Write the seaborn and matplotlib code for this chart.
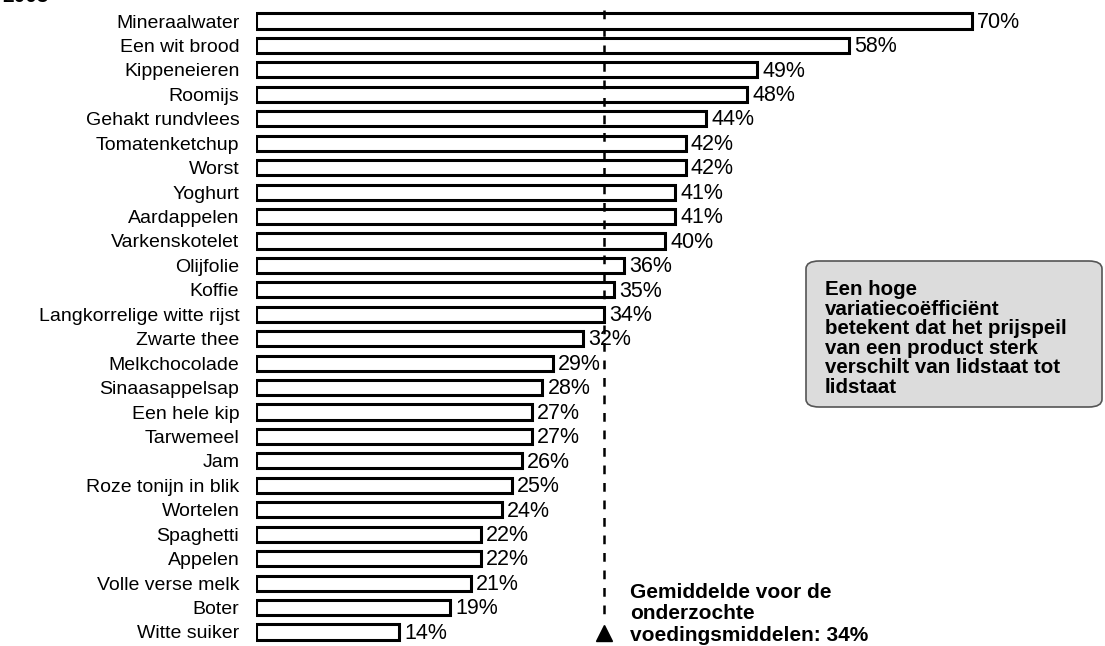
import numpy as np
import matplotlib as mpl
_ = mpl.use('Agg')
import matplotlib.pyplot as plt
import seaborn as sns
import pandas as pd
from matplotlib.patches import FancyBboxPatch

products = ['Mineraalwater', 'Een wit brood', 'Kippeneieren', 'Roomijs', 'Gehakt rundvlees',
            'Tomatenketchup', 'Worst', 'Yoghurt', 'Aardappelen', 'Varkenskotelet', 'Olijfolie',
            'Koffie', 'Langkorrelige witte rijst', 'Zwarte thee', 'Melkchocolade', 'Sinaasappelsap',
            'Een hele kip', 'Tarwemeel', 'Jam', 'Roze tonijn in blik', 'Wortelen', 'Spaghetti',
            'Appelen', 'Volle verse melk', 'Boter', 'Witte suiker']
variation = [70, 58, 49, 48, 44, 42, 42, 41, 41, 40, 36, 35, 34, 32, 29, 28, 27, 27, 26, 25,
             24, 22, 22, 21, 19, 14]
mean_value = 34

sns.set_theme(style='white')
plt.rcParams['font.family'] = ['Liberation Sans', 'DejaVu Sans']
plt.rcParams['text.color'] = 'black'
plt.rcParams['ytick.color'] = 'black'

df = pd.DataFrame({'product': products, 'value': variation})

fig = plt.figure(figsize=(11.05, 6.46), dpi=100)
ax = fig.add_axes([256 / 1105, 1 - 644.2 / 646, 844 / 1105, (644.2 - 8.8) / 646])

sns.barplot(data=df, x='value', y='product', orient='h', color='white', edgecolor='black',
            linewidth=2.2, width=0.62, ax=ax, saturation=1)

for i, v in enumerate(variation):
    ax.text(v + 0.5, i + 0.05, '%d%%' % v, va='center', ha='left', fontsize=15.5, color='black')

ax.plot([mean_value, mean_value], [-0.45, 24.6], color='black', linestyle=(0, (3.5, 3.5)), linewidth=1.8)
ax.plot([mean_value], [25.05], marker='^', color='black', markersize=12)

ax.set_xlim(0, 844 / 10.23)
ax.set_ylim(25.5, -0.5)
ax.set_xlabel('')
ax.set_ylabel('')
ax.set_xticks([])
ax.tick_params(axis='y', length=0, pad=12, labelsize=14, labelcolor='black')
for s in ax.spines.values():
    s.set_visible(False)

fig.text(630 / 1105, 1 - 583 / 646, 'Gemiddelde voor de\nonderzochte\nvoedingsmiddelen: 34%',
         fontsize=15, fontweight='bold', va='top', ha='left', linespacing=1.16, color='black')

box = FancyBboxPatch((806 / 1105, 1 - 407 / 646), 296 / 1105, 146 / 646,
                     boxstyle='round,pad=0,rounding_size=0.012', transform=fig.transFigure,
                     facecolor='#dcdcdc', edgecolor='#555555', linewidth=1.2)
fig.patches.append(box)
fig.text(825 / 1105, 1 - 280 / 646,
         'Een hoge\nvariatiecoëfficiënt\nbetekent dat het prijspeil\nvan een product sterk\nverschilt van lidstaat tot\nlidstaat',
         fontsize=14.8, fontweight='bold', va='top', ha='left', linespacing=1.04, color='black')

fig.text(2 / 1105, 1 + 13 / 646, '2005', fontsize=15, fontweight='bold', va='top', ha='left',
         color='black')

fig.savefig('out.png', dpi=100)
